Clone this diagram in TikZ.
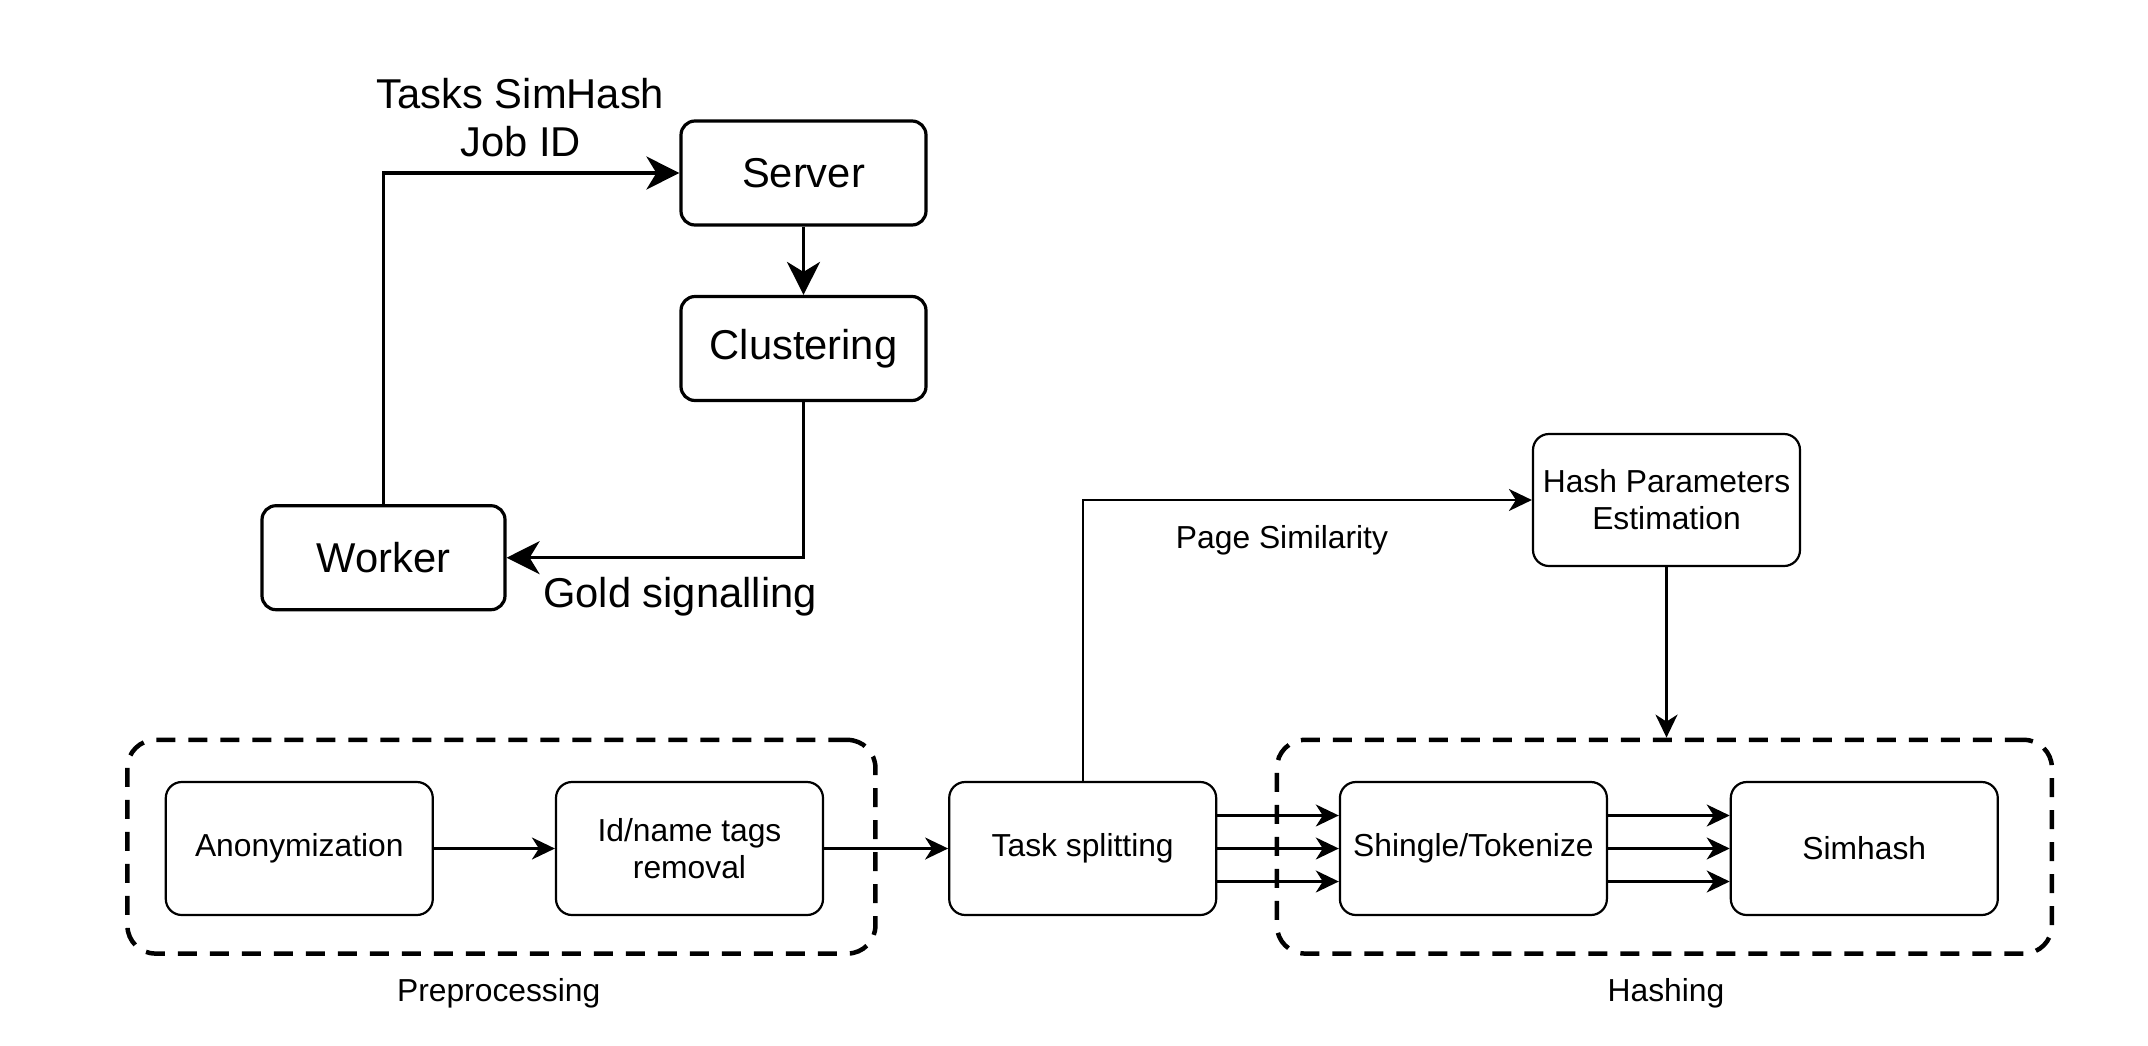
\documentclass[tikz,border=0pt]{standalone}
\usepackage{fontspec}
\setmainfont{Liberation Sans}
\usetikzlibrary{arrows.meta}
\begin{document}
\begin{tikzpicture}[x=1pt,y=-1pt,
  bigbox/.style={draw, line width=3.2pt, rounded corners=14pt, minimum width=245pt, minimum height=104pt, inner sep=0pt, font=\fontsize{41.7}{48}\selectfont},
  smallbox/.style={draw, line width=2.2pt, rounded corners=16pt, minimum width=267pt, minimum height=133pt, inner sep=0pt, align=center, font=\fontsize{31.8}{37}\selectfont},
  groupbox/.style={draw, line width=4.5pt, dash pattern=on 19pt off 13pt, rounded corners=28pt, inner sep=0pt},
  bigarrow/.style={line width=3.2pt, -{Stealth[length=33pt, width=33pt, inset=10pt]}},
  smallarrow/.style={line width=2.2pt, -{Stealth[length=23pt, width=22pt, inset=7pt]}},
  biglabel/.style={font=\fontsize{41.7}{48}\selectfont, align=center, inner sep=0pt},
  smalllabel/.style={font=\fontsize{31.8}{37}\selectfont, align=center, inner sep=0pt}
]
\useasboundingbox (0,0) rectangle (2148,1045);
% top diagram
\node[bigbox] (server) at (803.5,173) {Server};
\node[bigbox] (clust) at (803.5,348.5) {Clustering};
\node[bigbox, minimum width=243pt] (worker) at (383.5,557.7) {Worker};
\node[biglabel] (tasks) at (520.5,118) {Tasks SimHash\\Job ID};
\node[biglabel] (gold) at (680,597) {Gold signalling};
\draw[bigarrow] (worker.north) |- (server.west);
\draw[bigarrow] (server.south) -- (clust.north);
\draw[bigarrow] (clust.south) |- (worker.east);
% bottom pipeline
\node[groupbox, minimum width=748pt, minimum height=213.7pt] (pre) at (501.4,846.7) {};
\node[groupbox, minimum width=775pt, minimum height=213.7pt] (hash) at (1664.4,846.7) {};
\node[smallbox] (anon) at (299.3,848.5) {Anonymization};
\node[smallbox] (idn) at (689.5,848.5) {Id/name tags\\removal};
\node[smallbox] (ts) at (1082.7,848.5) {Task splitting};
\node[smallbox] (sh) at (1473.4,848.5) {Shingle/Tokenize};
\node[smallbox] (sim) at (1864.3,848.5) {Simhash};
\node[smallbox, minimum height=132pt] (hpe) at (1666.5,500) {Hash Parameters\\Estimation};
\node[smalllabel] (pagesim) at (1282,540) {Page Similarity};
\node[smalllabel] (prelabel) at (498.7,993) {Preprocessing};
\node[smalllabel] (hashlabel) at (1666,993) {Hashing};
\draw[smallarrow] (anon.east) -- (idn.west);
\draw[smallarrow] (idn.east) -- (ts.west);
\draw[smallarrow] (ts.north) |- (hpe.west);
\draw[smallarrow] (hpe.south) -- (hpe.south |- hash.north);
\foreach \d in {-33,0,33}{
  \draw[smallarrow] ([yshift=\d pt]ts.east) -- ([yshift=\d pt]sh.west);
  \draw[smallarrow] ([yshift=\d pt]sh.east) -- ([yshift=\d pt]sim.west);
}
\end{tikzpicture}
\end{document}
